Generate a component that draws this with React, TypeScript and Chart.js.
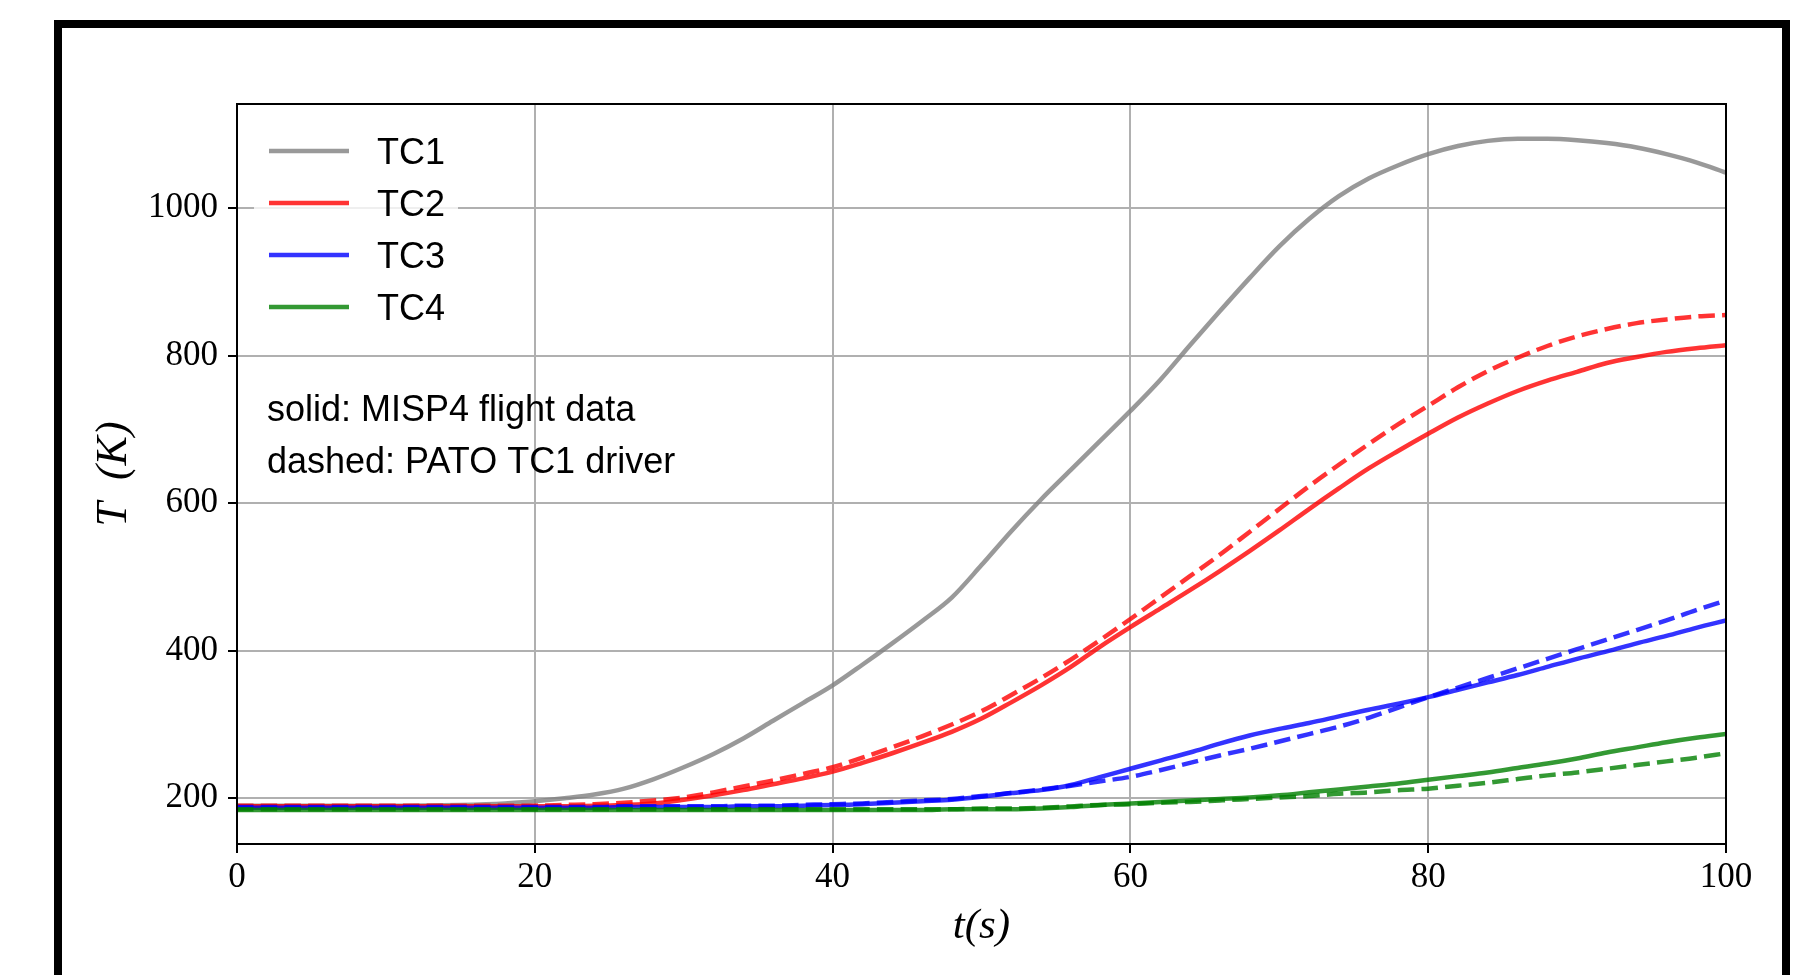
import React, { useEffect, useRef } from "react";
import { Chart, registerables } from "chart.js";

Chart.register(...registerables);

// time axis (s)
const times = [0, 5, 10, 15, 18, 20, 22, 24, 26, 28, 30, 32, 34, 36, 38, 40, 42, 44, 46, 48, 50, 52, 54, 56, 58, 60, 62, 64, 66, 68, 70, 72, 74, 76, 78, 80, 82, 84, 86, 88, 90, 92, 94, 96, 98, 100];

// solid: MISP4 flight data
const tc1Flight = [190, 190, 190, 191, 193, 196, 200, 205, 213, 226, 242, 260, 281, 305, 329, 353, 381, 410, 440, 472, 516, 562, 605, 645, 685, 725, 767, 814, 860, 905, 948, 985, 1016, 1040, 1058, 1073, 1084, 1091, 1094, 1094, 1092, 1088, 1082, 1073, 1062, 1048];
const tc2Flight = [189, 189, 189, 189, 189, 189, 189, 190, 191, 193, 198, 204, 211, 219, 227, 236, 248, 261, 275, 290, 308, 330, 353, 378, 406, 432, 457, 482, 508, 535, 563, 592, 620, 647, 671, 694, 716, 735, 752, 766, 778, 790, 798, 805, 810, 814];
const tc3Flight = [187, 187, 187, 187, 187, 187, 187, 187, 188, 188, 188, 188, 189, 189, 190, 191, 192, 194, 196, 198, 202, 207, 211, 218, 229, 240, 251, 262, 274, 285, 294, 302, 311, 320, 328, 337, 347, 357, 367, 378, 389, 399, 410, 420, 431, 441];
const tc4Flight = [184, 184, 184, 184, 184, 184, 184, 184, 184, 184, 184, 184, 184, 184, 184, 184, 184, 184, 184, 185, 185, 185, 186, 188, 191, 193, 195, 197, 199, 201, 204, 208, 212, 216, 220, 225, 230, 235, 241, 247, 254, 262, 269, 276, 282, 287];

// dashed: PATO TC1 driver
const tc2Pato = [190, 190, 190, 190, 190, 190, 191, 192, 194, 197, 201, 208, 216, 224, 233, 242, 255, 269, 284, 300, 318, 340, 363, 388, 415, 443, 472, 501, 530, 561, 592, 623, 652, 680, 707, 732, 757, 779, 797, 813, 826, 836, 844, 849, 853, 855];
const tc3Pato = [188, 188, 188, 188, 188, 188, 188, 188, 189, 189, 189, 189, 190, 190, 191, 192, 193, 195, 197, 199, 203, 207, 212, 217, 223, 229, 238, 248, 258, 267, 277, 287, 297, 309, 323, 337, 350, 363, 376, 389, 402, 415, 428, 441, 455, 468];
const tc4Pato = [185, 185, 185, 185, 185, 185, 185, 185, 185, 185, 185, 185, 185, 185, 185, 185, 185, 185, 185, 185, 186, 186, 187, 189, 191, 192, 194, 195, 197, 199, 201, 203, 206, 208, 211, 213, 217, 221, 226, 231, 235, 240, 245, 250, 255, 261];

const seriesNames = ["TC1", "TC2", "TC3", "TC4"];
const seriesColors = ["rgba(128,128,128,0.8)", "rgba(255,0,0,0.8)", "rgba(0,0,255,0.8)", "rgba(0,128,0,0.8)"];
const xTicks = [0, 20, 40, 60, 80, 100];
const yTicks = [200, 400, 600, 800, 1000];
const noteLines = ["solid: MISP4 flight data", "dashed: PATO TC1 driver"];
const xTitle = "t(s)";
const yTitle = "T  (K)";

const pts = (vals: number[]) => times.map((t, i) => ({ x: t, y: vals[i] }));

const decorPlugin = {
  id: "decor",
  afterDraw(chart: any) {
    const { ctx, chartArea: a } = chart;
    ctx.save();
    // legend box
    ctx.fillStyle = "rgba(255,255,255,0.8)";
    const bx = a.left + 17, by = a.top + 11, bw = 204, bh = 232, r = 6;
    ctx.beginPath();
    ctx.moveTo(bx + r, by);
    ctx.lineTo(bx + bw - r, by);
    ctx.quadraticCurveTo(bx + bw, by, bx + bw, by + r);
    ctx.lineTo(bx + bw, by + bh - r);
    ctx.quadraticCurveTo(bx + bw, by + bh, bx + bw - r, by + bh);
    ctx.lineTo(bx + r, by + bh);
    ctx.quadraticCurveTo(bx, by + bh, bx, by + bh - r);
    ctx.lineTo(bx, by + r);
    ctx.quadraticCurveTo(bx, by, bx + r, by);
    ctx.closePath();
    ctx.fill();
    // legend entries
    ctx.font = "36px 'Liberation Sans'";
    ctx.textBaseline = "alphabetic";
    ctx.textAlign = "left";
    seriesNames.forEach((name, i) => {
      const cy = a.top + 47 + i * 52;
      ctx.strokeStyle = seriesColors[i];
      ctx.lineWidth = 4.5;
      ctx.setLineDash([]);
      ctx.beginPath();
      ctx.moveTo(a.left + 32, cy);
      ctx.lineTo(a.left + 112, cy);
      ctx.stroke();
      ctx.fillStyle = "#000";
      ctx.fillText(name, a.left + 140, cy + 13);
    });
    // notes
    noteLines.forEach((line, i) => {
      ctx.fillText(line, a.left + 30, a.top + 317 + i * 52);
    });
    // spines
    ctx.strokeStyle = "#000";
    ctx.lineWidth = 2;
    ctx.strokeRect(a.left, a.top, a.right - a.left, a.bottom - a.top);
    // outer frame
    ctx.lineWidth = 8;
    ctx.strokeRect(58, 24, 1728, 1100);
    ctx.restore();
  },
};

export default function App() {
  const ref = useRef<HTMLCanvasElement | null>(null);
  useEffect(() => {
    if (!ref.current) return;
    const solid = (vals: number[], c: number) => ({
      label: seriesNames[c],
      data: pts(vals),
      borderColor: seriesColors[c],
      borderWidth: 4.5,
      pointRadius: 0,
      fill: false,
      cubicInterpolationMode: "monotone" as const,
    });
    const dashed = (vals: number[], c: number) => ({
      ...solid(vals, c),
      label: seriesNames[c] + " PATO",
      borderDash: [16.5, 7.2],
      borderCapStyle: "butt" as const,
    });
    const chart = new Chart(ref.current, {
      type: "line",
      data: {
        datasets: [
          dashed(tc4Pato, 3),
          solid(tc4Flight, 3),
          dashed(tc3Pato, 2),
          solid(tc3Flight, 2),
          dashed(tc2Pato, 1),
          solid(tc2Flight, 1),
          solid(tc1Flight, 0),
        ],
      },
      options: {
        animation: false,
        responsive: false,
        layout: { padding: { top: 104, right: 84, left: 0, bottom: 0 } },
        plugins: { legend: { display: false }, tooltip: { enabled: false } },
        scales: {
          x: {
            type: "linear",
            min: 0,
            max: 100,
            afterBuildTicks: (s: any) => {
              s.ticks = xTicks.map((v) => ({ value: v }));
            },
            afterFit: (s: any) => {
              s.height = 131;
            },
            grid: { color: "#b0b0b0", lineWidth: 2, tickColor: "#000", tickWidth: 2, tickLength: 9 },
            border: { color: "#000", width: 2 },
            ticks: {
              color: "#000",
              font: { family: "'Liberation Serif'", size: 35 },
              padding: 4,
              maxRotation: 0,
              callback: (v: any) => String(v),
            },
            title: {
              display: true,
              text: xTitle,
              color: "#000",
              font: { family: "'Liberation Serif'", size: 43, style: "italic" },
              padding: { top: 0, bottom: 22 },
            },
          },
          y: {
            type: "linear",
            min: 138,
            max: 1141,
            afterBuildTicks: (s: any) => {
              s.ticks = yTicks.map((v) => ({ value: v }));
            },
            afterFit: (s: any) => {
              s.width = 237;
            },
            grid: { color: "#b0b0b0", lineWidth: 2, tickColor: "#000", tickWidth: 2, tickLength: 9 },
            border: { color: "#000", width: 2 },
            ticks: {
              color: "#000",
              font: { family: "'Liberation Serif'", size: 35 },
              padding: 10,
              callback: (v: any) => String(v),
            },
            title: {
              display: true,
              text: yTitle,
              color: "#000",
              font: { family: "'Liberation Serif'", size: 44, style: "italic" },
              padding: { top: 88, bottom: 0 },
            },
          },
        },
      },
      plugins: [decorPlugin],
    });
    return () => chart.destroy();
  }, []);
  return (
    <div style={{ position: "fixed", left: 0, top: 0, width: 1810, height: 975, background: "#fff" }}>
      <canvas ref={ref} width={1810} height={975} style={{ display: "block" }} />
    </div>
  );
}
